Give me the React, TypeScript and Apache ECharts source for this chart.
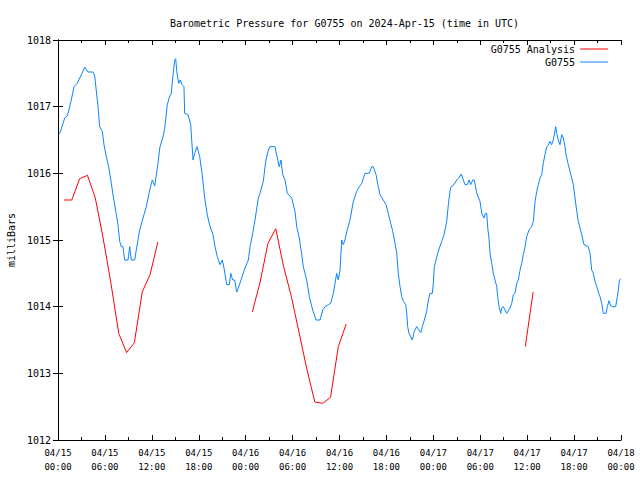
import React, { useEffect, useRef } from "react";
import * as echarts from "echarts";

const chartTitle = "Barometric Pressure for G0755 on 2024-Apr-15 (time in UTC)";
const seriesNames = ["G0755 Analysis", "G0755"];
const yTicks = [1012, 1013, 1014, 1015, 1016, 1017, 1018];
const hourTicks = [0, 6, 12, 18, 24, 30, 36, 42, 48, 54, 60, 66, 72];

// G0755 station readings: [hours since 04/15 00:00 UTC, milliBars]
const stationReadings: [number, number][] = [
  [0.1, 1016.6], [0.22, 1016.6], [0.64, 1016.75], [0.86, 1016.83], [1.19, 1016.86], [1.7, 1017.1],
  [2.05, 1017.3], [2.47, 1017.35], [2.65, 1017.4], [3.07, 1017.5], [3.41, 1017.59], [3.84, 1017.52],
  [4.48, 1017.52], [4.69, 1017.46], [5.12, 1017.0], [5.33, 1016.7], [5.67, 1016.63], [5.88, 1016.43],
  [6.18, 1016.25], [6.48, 1016.1], [6.82, 1015.85], [7.03, 1015.68], [7.46, 1015.38], [7.67, 1015.23],
  [7.89, 1014.98], [8.1, 1014.9], [8.31, 1014.9], [8.53, 1014.7], [8.95, 1014.7], [9.17, 1014.9],
  [9.37, 1014.7], [9.81, 1014.7], [10.01, 1014.85], [10.45, 1015.15], [10.87, 1015.33], [11.29, 1015.5],
  [11.73, 1015.75], [12.06, 1015.9], [12.37, 1015.81], [12.57, 1015.97], [12.79, 1016.15], [13.01, 1016.38],
  [13.43, 1016.55], [13.65, 1016.68], [13.98, 1017.03], [14.29, 1017.16], [14.49, 1017.2], [14.71, 1017.48],
  [14.92, 1017.69], [15.05, 1017.72], [15.22, 1017.5], [15.44, 1017.35], [15.64, 1017.4], [15.86, 1017.33],
  [16.11, 1017.3], [16.2, 1016.9], [16.63, 1016.88], [16.97, 1016.73], [17.27, 1016.2], [17.48, 1016.3],
  [17.78, 1016.4], [18.12, 1016.25], [18.42, 1016.0], [18.76, 1015.63], [19.09, 1015.38], [19.4, 1015.22],
  [19.82, 1015.08], [20.08, 1014.9], [20.37, 1014.75], [20.72, 1014.63], [21.01, 1014.7], [21.23, 1014.58],
  [21.57, 1014.33], [21.91, 1014.33], [22.09, 1014.5], [22.34, 1014.4], [22.6, 1014.4], [22.85, 1014.22],
  [23.06, 1014.28], [23.49, 1014.43], [23.92, 1014.58], [24.34, 1014.7], [24.56, 1014.9], [24.9, 1015.1],
  [25.19, 1015.3], [25.62, 1015.63], [25.83, 1015.7], [26.26, 1015.88], [26.56, 1016.18], [26.9, 1016.35],
  [27.11, 1016.4], [27.75, 1016.4], [28.05, 1016.23], [28.3, 1016.1], [28.52, 1016.2], [28.74, 1015.98],
  [29.03, 1015.9], [29.33, 1015.7], [29.89, 1015.63], [30.31, 1015.43], [30.53, 1015.2], [30.86, 1015.03],
  [31.17, 1014.78], [31.37, 1014.6], [31.81, 1014.4], [32.14, 1014.15], [32.57, 1013.95], [33.0, 1013.8],
  [33.51, 1013.8], [33.85, 1013.95], [34.15, 1014.0], [34.57, 1014.03], [34.88, 1014.05], [35.21, 1014.2],
  [35.43, 1014.35], [35.64, 1014.5], [35.85, 1014.4], [36.07, 1014.55], [36.28, 1015.0], [36.49, 1014.93],
  [36.7, 1015.0], [36.92, 1015.12], [37.34, 1015.3], [37.77, 1015.58], [38.2, 1015.73], [38.53, 1015.8],
  [38.84, 1015.85], [39.26, 1016.0], [39.81, 1016.0], [40.12, 1016.1], [40.32, 1016.1], [40.67, 1015.98],
  [40.96, 1015.8], [41.18, 1015.68], [41.6, 1015.6], [41.95, 1015.53], [42.24, 1015.4], [42.55, 1015.25],
  [42.81, 1015.13], [43.1, 1014.95], [43.32, 1014.8], [43.52, 1014.5], [43.74, 1014.3], [43.96, 1014.15],
  [44.16, 1014.08], [44.47, 1014.03], [44.6, 1013.9], [44.72, 1013.7], [44.89, 1013.6], [45.31, 1013.5],
  [45.57, 1013.63], [45.87, 1013.7], [46.39, 1013.61], [46.59, 1013.7], [46.85, 1013.8], [47.15, 1013.93],
  [47.36, 1014.1], [47.58, 1014.2], [47.87, 1014.2], [48.0, 1014.35], [48.13, 1014.6], [48.34, 1014.7],
  [48.69, 1014.85], [49.07, 1014.98], [49.37, 1015.08], [49.71, 1015.28], [49.92, 1015.53], [50.13, 1015.73],
  [50.26, 1015.8], [50.64, 1015.83], [50.99, 1015.9], [51.32, 1015.94], [51.58, 1015.99], [51.83, 1015.9],
  [52.05, 1015.83], [52.35, 1015.83], [52.56, 1015.9], [52.78, 1015.83], [53.04, 1015.9], [53.24, 1015.9],
  [53.55, 1015.7], [53.97, 1015.58], [54.19, 1015.4], [54.48, 1015.33], [54.65, 1015.4], [54.83, 1015.4],
  [54.96, 1015.18], [55.12, 1015.03], [55.25, 1014.8], [55.47, 1014.65], [55.67, 1014.5], [55.89, 1014.4],
  [56.11, 1014.3], [56.23, 1014.15], [56.4, 1014.0], [56.62, 1013.9], [56.75, 1013.98], [56.95, 1014.0],
  [57.39, 1013.9], [57.81, 1013.98], [58.03, 1014.05], [58.23, 1014.18], [58.45, 1014.2], [58.66, 1014.35],
  [58.87, 1014.4], [59.09, 1014.55], [59.3, 1014.65], [59.51, 1014.78], [59.73, 1014.9], [59.94, 1015.05],
  [60.24, 1015.15], [60.58, 1015.2], [60.79, 1015.28], [61.01, 1015.58], [61.22, 1015.73], [61.43, 1015.83],
  [61.64, 1015.93], [61.86, 1015.98], [62.07, 1016.16], [62.28, 1016.28], [62.5, 1016.4], [62.7, 1016.42],
  [62.92, 1016.48], [63.13, 1016.43], [63.34, 1016.5], [63.65, 1016.7], [63.78, 1016.6], [63.98, 1016.5],
  [64.2, 1016.43], [64.42, 1016.58], [64.62, 1016.53], [64.84, 1016.4], [64.97, 1016.28], [65.26, 1016.13],
  [65.48, 1016.03], [65.7, 1015.93], [65.9, 1015.83], [66.12, 1015.63], [66.34, 1015.43], [66.54, 1015.28],
  [66.76, 1015.18], [66.98, 1015.08], [67.27, 1014.93], [67.82, 1014.9], [68.04, 1014.8], [68.25, 1014.55],
  [68.46, 1014.5], [68.68, 1014.38], [68.9, 1014.3], [69.1, 1014.22], [69.32, 1014.15], [69.53, 1014.05],
  [69.74, 1013.9], [70.08, 1013.9], [70.25, 1014.0], [70.47, 1014.09], [70.68, 1014.01], [70.89, 1014.0],
  [71.32, 1014.0], [71.53, 1014.15], [71.66, 1014.25], [71.79, 1014.39], [71.95, 1014.42],
];

// G0755 Analysis (hourly, with gaps)
const analysisHours = [
  0.77, 1.77, 2.77, 3.77, 4.77, 5.77, 6.77, 7.77, 8.77, 9.77, 10.77, 11.77, 12.77,
  18,
  24.85, 25.85, 26.85, 27.85, 28.85, 29.85, 30.85, 31.85, 32.85, 33.85, 34.85, 35.85, 36.85,
  48,
  59.76, 60.76,
];
const analysisMb: (number | null)[] = [
  1015.6, 1015.6, 1015.92, 1015.97, 1015.63, 1015.03, 1014.35, 1013.6, 1013.31, 1013.46, 1014.22, 1014.48, 1014.97,
  null,
  1013.92, 1014.37, 1014.95, 1015.17, 1014.6, 1014.15, 1013.6, 1013.05, 1012.57, 1012.55, 1012.64, 1013.4, 1013.74,
  null,
  1013.4, 1014.22,
];

const FONT = "DejaVu Sans Mono";

function hourLabel(v: number): string {
  const day = 15 + Math.floor(v / 24);
  const hh = v % 24;
  return "04/" + String(day).padStart(2, "0") + "\n" + String(hh).padStart(2, "0") + ":00";
}

export default function App() {
  const ref = useRef<HTMLDivElement>(null);
  useEffect(() => {
    if (!ref.current) return;
    const chart = echarts.init(ref.current, undefined, { renderer: "svg" });
    const xMin = hourTicks[0];
    const xMax = hourTicks[hourTicks.length - 1];
    const yMin = yTicks[0];
    const yMax = yTicks[yTicks.length - 1];
    const xCommon = {
      type: "value" as const,
      min: xMin,
      max: xMax,
      interval: 6,
      axisLine: { show: true, lineStyle: { color: "#000", width: 1 } },
      axisTick: { show: true, inside: true, length: 5, lineStyle: { color: "#000" } },
      minorTick: { show: true, splitNumber: 2, length: 3, lineStyle: { color: "#000" } },
      splitLine: { show: false },
      minorSplitLine: { show: false },
    };
    const yCommon = {
      type: "value" as const,
      min: yMin,
      max: yMax,
      interval: 1,
      axisLine: { show: true, lineStyle: { color: "#000", width: 1 } },
      axisTick: { show: true, inside: true, length: 5, lineStyle: { color: "#000" } },
      splitLine: { show: false },
    };
    chart.setOption({
      animation: false,
      backgroundColor: "#fff",
      title: {
        text: chartTitle,
        left: 339.5,
        textAlign: "center",
        top: 13,
        textStyle: { fontFamily: FONT, fontSize: 10, fontWeight: "normal", color: "#000" },
      },
      legend: [
        {
          data: [seriesNames[0]],
          right: 32,
          top: 44,
          align: "right",
          orient: "vertical",
          icon: "rect",
          itemWidth: 28,
          itemHeight: 1,
          padding: 0,
          textStyle: { fontFamily: FONT, fontSize: 10, color: "#000" },
        },
        {
          data: [seriesNames[1]],
          right: 32,
          top: 57,
          align: "right",
          orient: "vertical",
          icon: "rect",
          itemWidth: 28,
          itemHeight: 1,
          padding: 0,
          textStyle: { fontFamily: FONT, fontSize: 10, color: "#000" },
        },
      ],
      grid: { left: 58, right: 19, top: 40, bottom: 40, containLabel: false, outerBoundsMode: "none" },
      xAxis: [
        {
          ...xCommon,
          position: "bottom",
          axisLabel: {
            show: true,
            formatter: hourLabel,
            fontFamily: FONT,
            fontSize: 9,
            color: "#000",
            lineHeight: 14,
            margin: 6,
          },
        },
        {
          ...xCommon,
          position: "top",
          axisLabel: { show: false },
        },
      ],
      yAxis: [
        {
          ...yCommon,
          position: "left",
          name: "milliBars",
          nameLocation: "middle",
          nameGap: 42,
          nameTextStyle: { fontFamily: FONT, fontSize: 10, color: "#000" },
          axisLabel: {
            show: true,
            formatter: (v: number) => String(v),
            fontFamily: FONT,
            fontSize: 10,
            color: "#000",
            margin: 7,
          },
        },
        {
          ...yCommon,
          position: "right",
          axisLabel: { show: false },
        },
      ],
      series: [
        {
          name: seriesNames[0],
          type: "line",
          xAxisIndex: 0,
          yAxisIndex: 0,
          symbol: "none",
          connectNulls: false,
          lineStyle: { color: "#ff0000", width: 1 },
          itemStyle: { color: "#ff0000" },
          data: analysisHours.map((h, i) => [h, analysisMb[i] === null ? "-" : analysisMb[i]]),
        },
        {
          name: seriesNames[1],
          type: "line",
          xAxisIndex: 0,
          yAxisIndex: 0,
          symbol: "none",
          lineStyle: { color: "#0a84ff", width: 1 },
          itemStyle: { color: "#0a84ff" },
          data: stationReadings.map((p) => [p[0], p[1]]),
        },
      ],
    });
    return () => chart.dispose();
  }, []);
  return (
    <div
      ref={ref}
      style={{ position: "fixed", left: 0, top: 0, width: 640, height: 480, background: "#fff" }}
    />
  );
}
